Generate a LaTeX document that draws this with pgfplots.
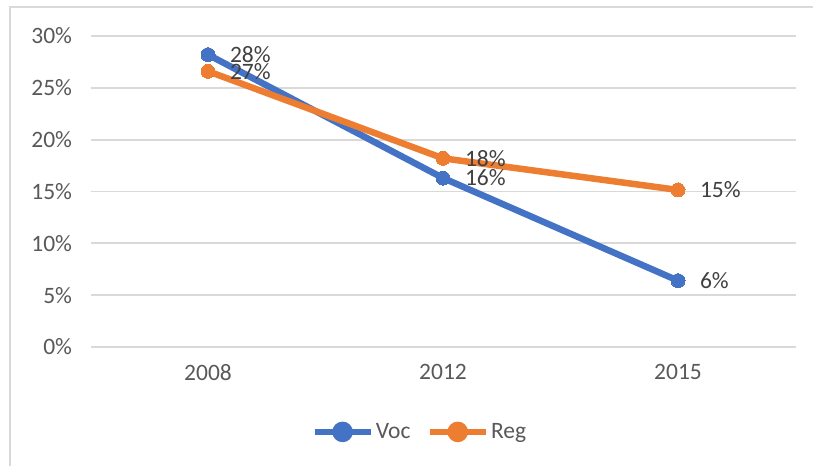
\documentclass[border=0pt]{standalone}
\usepackage{fontspec}
\setmainfont{Carlito}
\usepackage{pgfplots}
\pgfplotsset{compat=1.18}
\definecolor{cblue}{HTML}{4472C4}
\definecolor{corange}{HTML}{ED7D31}
\definecolor{cgrid}{HTML}{D9D9D9}
\definecolor{ctick}{HTML}{595959}
\definecolor{clabel}{HTML}{404040}
\begin{document}
\begin{tikzpicture}
\path[use as bounding box] (0pt,0pt) rectangle (813pt,466pt);
\draw[cgrid, line width=1.5pt] (10pt,0pt) -- (10pt,459pt) -- (813pt,459pt);
\begin{axis}[
  at={(90.5pt,119pt)}, anchor=south west,
  scale only axis, width=705pt, height=311pt,
  xmin=-0.5, xmax=2.5, ymin=0, ymax=30,
  xtick={0,1,2}, xticklabels={2008,2012,2015},
  ytick={0,5,10,15,20,25,30},
  yticklabels={0\%,5\%,10\%,15\%,20\%,25\%,30\%},
  axis line style={draw=none},
  major tick length=0pt,
  ymajorgrids, grid style={cgrid, line width=1.8pt},
  tick label style={font=\fontsize{23.5}{28}\selectfont, text=ctick},
  yticklabel style={xshift=-15pt},
  xticklabel style={yshift=-14pt},
  clip=false,
  legend style={at={(0.467,-0.273)}, anchor=center, draw=none, fill=none,
    legend columns=2, font=\fontsize{23.5}{28}\selectfont, text=ctick,
    /tikz/every even column/.append style={column sep=14pt}},
  legend image code/.code={%
    \draw[#1,mark=none] (0pt,0pt) -- (56pt,0pt);
    \fill[#1] (28pt,0pt) circle (7pt);},
  point meta=explicit symbolic,
  nodes near coords,
  nodes near coords style={anchor=west, xshift=22pt, inner sep=0pt,
    font=\fontsize{23.5}{28}\selectfont, text=clabel},
]
\addplot[cblue, line width=6.5pt, mark=*, mark size=7pt, mark options={line width=0pt}] coordinates {
  (0,28.2) [28\%] (1,16.3) [16\%] (2,6.4) [6\%]
};
\addlegendentry{Voc}
\addplot[corange, line width=6.5pt, mark=*, mark size=7pt, mark options={line width=0pt}] coordinates {
  (0,26.6) [27\%] (1,18.2) [18\%] (2,15.15) [15\%]
};
\addlegendentry{Reg}
\end{axis}
\end{tikzpicture}
\end{document}
